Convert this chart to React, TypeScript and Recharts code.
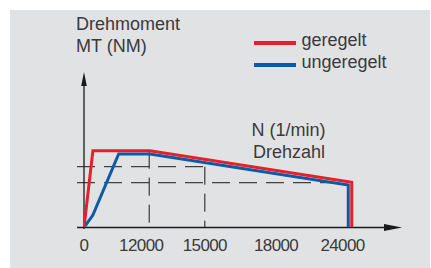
import {
  LineChart,
  Line,
  XAxis,
  YAxis,
  ReferenceLine,
  ReferenceDot,
} from "recharts";

// Schematic chart: x and y are relative positions (0..100) on the drawn axes,
// the rpm labels are only placed at their tick positions.
const tickPos = [0, 18, 38, 60.4, 81.3];
const tickLabels = ["0", "12000", "15000", "18000", "24000"];

const redN = [0, 2.8, 20.7, 84.2, 84.2];
const redM = [0, 49.4, 49.4, 29.1, 0];

const blueN = [0, 2.8, 10.9, 20.7, 83.1, 83.1];
const blueM = [0, 8.0, 47.3, 47.3, 27.3, 0];

// helper lines (dashed)
const upperLevel = 39.1;
const lowerLevel = 28.8;
const n12000 = 20.5;
const n15000 = 38.0;
const lowerEnd = 83.1;
const tickStart = -2.2;

const RED = "#e3202b";
const BLUE = "#0d5aa7";
const INK = "#1a1a1a";
const TEXT = "#3a3a3a";
const FONT = "'Liberation Sans', Arial, sans-serif";

const redData = redN.map((n, i) => ({ n, m: redM[i] }));
const blueData = blueN.map((n, i) => ({ n, m: blueM[i] }));

const dash = "18 9";

function XArrow(props: any) {
  const { cx, cy } = props;
  return <polygon points={`${cx},${cy} ${cx - 18},${cy - 3.5} ${cx - 18},${cy + 3.5}`} fill={INK} />;
}

function YArrow(props: any) {
  const { cx, cy } = props;
  return <polygon points={`${cx},${cy} ${cx - 2.8},${cy + 14} ${cx + 2.8},${cy + 14}`} fill={INK} />;
}

function Tick(props: any) {
  const { x, y, payload } = props;
  const idx = tickPos.indexOf(payload.value);
  return (
    <text
      x={x}
      y={y}
      dy={23}
      textAnchor="middle"
      fontSize={17}
      letterSpacing={-0.6}
      fontFamily={FONT}
      fill={TEXT}
    >
      {idx >= 0 ? tickLabels[idx] : ""}
    </text>
  );
}

const label = (text: string, left: number, top: number) => (
  <div
    style={{
      position: "absolute",
      left,
      top,
      fontFamily: FONT,
      fontSize: 18,
      lineHeight: "18px",
      color: TEXT,
      whiteSpace: "nowrap",
    }}
  >
    {text}
  </div>
);

export default function App() {
  return (
    <div style={{ position: "absolute", left: 0, top: 0, width: 431, height: 268, background: "#fff" }}>
      <div style={{ position: "absolute", left: 10, top: 10, width: 420, height: 258, background: "#e1e2e4" }} />
      <div style={{ position: "absolute", left: 0, top: 0 }}>
        <LineChart width={431} height={268} margin={{ top: 72, right: 29, bottom: 10.5, left: 84 }}>
          <XAxis
            type="number"
            dataKey="n"
            domain={[0, 100]}
            ticks={tickPos}
            height={30}
            axisLine={false}
            tickLine={false}
            tickSize={0}
            tickMargin={0}
            tick={<Tick />}
            allowDataOverflow
          />
          <YAxis type="number" dataKey="m" domain={[0, 100]} hide allowDataOverflow />

          <ReferenceLine segment={[{ x: tickStart, y: upperLevel }, { x: n15000, y: upperLevel }]} stroke={INK} strokeWidth={1} strokeDasharray={dash} ifOverflow="visible" />
          <ReferenceLine segment={[{ x: n15000, y: upperLevel }, { x: n15000, y: 0 }]} stroke={INK} strokeWidth={1} strokeDasharray={dash} ifOverflow="visible" />
          <ReferenceLine segment={[{ x: tickStart, y: lowerLevel }, { x: lowerEnd, y: lowerLevel }]} stroke={INK} strokeWidth={1} strokeDasharray={dash} ifOverflow="visible" />
          <ReferenceLine segment={[{ x: n12000, y: redM[1] }, { x: n12000, y: 0 }]} stroke={INK} strokeWidth={1} strokeDasharray={dash} ifOverflow="visible" />

          <ReferenceLine segment={[{ x: tickStart, y: 0 }, { x: 95, y: 0 }]} stroke={INK} strokeWidth={1.3} ifOverflow="visible" />
          <ReferenceLine segment={[{ x: 0, y: -1 }, { x: 0, y: 92 }]} stroke={INK} strokeWidth={1.3} ifOverflow="visible" />
          <ReferenceDot x={100} y={0} r={1} shape={<XArrow />} ifOverflow="visible" />
          <ReferenceDot x={0} y={100} r={1} shape={<YArrow />} ifOverflow="visible" />

          <Line data={blueData} dataKey="m" type="linear" stroke={BLUE} strokeWidth={3} dot={false} isAnimationActive={false} strokeLinejoin="miter" />
          <Line data={redData} dataKey="m" type="linear" stroke={RED} strokeWidth={3} dot={false} isAnimationActive={false} strokeLinejoin="miter" />
        </LineChart>
      </div>

      {label("Drehmoment", 76, 14.8)}
      {label("MT (NM)", 76, 37.1)}
      {label("N (1/min)", 251.5, 120.5)}
      {label("Drehzahl", 253, 143.1)}

      <div style={{ position: "absolute", left: 253.5, top: 41, width: 42.5, height: 3.5, background: RED }} />
      <div style={{ position: "absolute", left: 253.5, top: 63.3, width: 42.5, height: 3.5, background: BLUE }} />
      {label("geregelt", 301.5, 30.8)}
      {label("ungeregelt", 301.5, 53.1)}
    </div>
  );
}
